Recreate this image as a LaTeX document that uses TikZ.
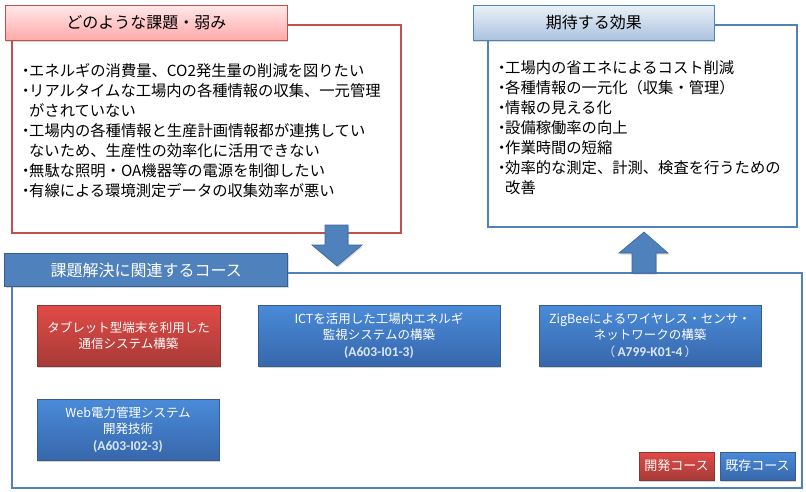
\documentclass[tikz,border=0pt]{standalone}
\usepackage{fontspec}
\setmainfont{Noto Sans CJK JP}
\newfontfamily\idfont{Carlito}
\usetikzlibrary{shadows}

\definecolor{redline}{HTML}{C0504D}
\definecolor{redtop}{HTML}{E24B47}
\definecolor{redbot}{HTML}{A63A37}
\definecolor{blueline}{HTML}{4F81BD}
\definecolor{bluetop}{HTML}{4A8BD9}
\definecolor{bluebot}{HTML}{3767AB}
\definecolor{bluedark}{HTML}{385D8A}
\definecolor{idtext}{HTML}{D8E6F8}

% bullet with a narrow box, continuation lines get the same indent
\newcommand\itm{\leavevmode\hbox to 7pt{\hss・\hss}}
\newcommand\cnt{\leavevmode\hspace*{7pt}}
\newcommand\courseid[1]{{\idfont\bfseries\fontsize{13.5}{16.5}\selectfont\color{idtext}#1}}

\begin{document}
\begin{tikzpicture}[x=1pt, y=-1pt, every node/.style={inner sep=0pt},
    listtext/.style={font=\fontsize{15.3}{20}\selectfont, anchor=base west},
    frame/.style={draw, line width=1.7pt, fill=white, anchor=north west},
    headbox/.style={draw, line width=0.9pt, anchor=north west, font=\fontsize{16}{20}\selectfont,
      drop shadow={shadow xshift=1pt, shadow yshift=-1.5pt, opacity=0.3}},
    course/.style={draw=bluedark, line width=0.6pt, top color=bluetop, bottom color=bluebot,
      text=white, align=center, font=\fontsize{12.5}{16.5}\selectfont, minimum height=61pt,
      drop shadow={shadow xshift=1pt, shadow yshift=-1.5pt, opacity=0.35}},
    devcourse/.style={course, draw=redline!70!black, top color=redtop, bottom color=redbot},
    legend/.style={minimum width=75pt, minimum height=28pt, font=\fontsize{13}{16}\selectfont},
    blockarrow/.style={fill=blueline, draw=bluedark!80!blueline, line width=0.6pt,
      drop shadow={shadow xshift=1pt, shadow yshift=-1.5pt, opacity=0.3}}]
  \useasboundingbox (0,0) rectangle (806,491);

  % problems
  \node[frame, draw=redline, minimum width=389pt, minimum height=208pt] (issues) at (11,24) {};
  \node[headbox, draw=redline, top color=red!9!white, bottom color=red!34!white,
    minimum width=282pt, minimum height=35pt] (issuesHead) at (5,5) {どのような課題・弱み};
  \node[listtext] (issuesTxt) at (22,76) {\parbox[t]{380pt}{%
      \itm エネルギの消費量、CO2発生量の削減を図りたい\\
      \itm リアルタイムな工場内の各種情報の収集、一元管理\\
      \cnt がされていない\\
      \itm 工場内の各種情報と生産計画情報都が連携してい\\
      \cnt ないため、生産性の効率化に活用できない\\
      \itm 無駄な照明・OA機器等の電源を制御したい\\
      \itm 有線による環境測定データの収集効率が悪い}};

  % expected effects
  \node[frame, draw=blueline, minimum width=309pt, minimum height=202pt] (effect) at (487,24) {};
  \node[headbox, draw=blueline, top color=blueline!12!white, bottom color=blueline!48!white,
    minimum width=241pt, minimum height=35pt] (effectHead) at (473,5) {期待する効果};
  \node[listtext] (effectTxt) at (498,73) {\parbox[t]{295pt}{%
      \itm 工場内の省エネによるコスト削減\\
      \itm 各種情報の一元化（収集・管理）\\
      \itm 情報の見える化\\
      \itm 設備稼働率の向上\\
      \itm 作業時間の短縮\\
      \itm 効率的な測定、計測、検査を行うための\\
      \cnt 改善}};

  % related courses
  \node[frame, draw=blueline, minimum width=790pt, minimum height=215pt] (courses) at (11,272) {};
  \node[headbox, draw=bluedark, fill=blueline, text=white, line width=1.3pt,
    minimum width=283pt, minimum height=33pt] (coursesHead) at (4,253) {課題解決に関連するコース};

  \node[devcourse, minimum width=183pt] (tablet) at (128.5,335.5) {タブレット型端末を利用した\\通信システム構築};
  \node[course, minimum width=242pt] (ict) at (379,335.5)
    {ICTを活用した工場内エネルギ\\監視システムの構築\\\courseid{(A603-I01-3)}};
  \node[course, minimum width=222pt] (zigbee) at (650,335.5)
    {ZigBeeによるワイヤレス・センサ・\\ネットワークの構築\\{\color{idtext}（\,\courseid{A799-K01-4}\,）}};
  \node[course, minimum width=182pt] (web) at (128,429.5)
    {Web電力管理システム\\開発技術\\\courseid{(A603-I02-3)}};

  \node[devcourse, legend] (legDev) at (676.5,466) {開発コース};
  \node[course, legend] (legExist) at (757.5,466) {既存コース};

  % block arrows
  \draw[blockarrow] (325,225) -- (348,225) -- (348,245) -- (362,245) -- (337,266)
    -- (312,245) -- (325,245) -- cycle;
  \draw[blockarrow] (632,273) -- (632,253) -- (619,253) -- (644,232) -- (668,253)
    -- (656,253) -- (656,273) -- cycle;
\end{tikzpicture}
\end{document}
